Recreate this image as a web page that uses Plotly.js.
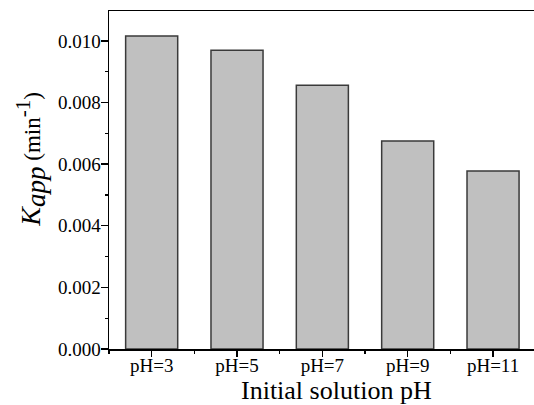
<!DOCTYPE html>
<html><head><meta charset="utf-8">
<script src="https://cdn.plot.ly/plotly-3.0.1.min.js"></script>
<style>html,body{margin:0;padding:0;background:#fff}#chart{width:534px;height:405px}</style>
</head><body><div id="chart"></div>
<script>
var categories = ["pH=3", "pH=5", "pH=7", "pH=9", "pH=11"];
var kapp = [0.01016, 0.0097, 0.00856, 0.00675, 0.00578];
var yTickVals = [0, 0.002, 0.004, 0.006, 0.008, 0.010];
var xPos = categories.map(function(c, i){ return i; });

var font = "Liberation Serif";
var trace = {
  type: 'bar', x: xPos, y: kapp, width: 0.61,
  marker: {color: '#c0c0c0', line: {color: '#3a3a3a', width: 1.5}},
  hoverinfo: 'skip'
};
var layout = {
  width: 534, height: 405,
  margin: {l: 109, r: 0, t: 11, b: 56, pad: 0},
  paper_bgcolor: '#fff', plot_bgcolor: '#fff',
  showlegend: false,
  font: {family: font, color: '#000', size: 19},
  xaxis: {
    range: [-0.5, 4.48], tickmode: 'array', tickvals: xPos, ticktext: categories,
    ticks: 'outside', ticklen: 6, tickwidth: 1.3, tickcolor: '#000', ticklabelstandoff: -7,
    minor: {tickvals: [-0.5, 0.5, 1.5, 2.5, 3.5], ticks: 'outside', ticklen: 3, tickwidth: 1.3, tickcolor: '#000'},
    showline: true, linecolor: '#000', linewidth: 1.5, mirror: true,
    showgrid: false, zeroline: false, fixedrange: true,
    tickfont: {family: font, size: 19, color: '#000'}
  },
  yaxis: {
    range: [0, 0.01097], tickmode: 'array', tickvals: yTickVals, tickformat: '.3f',
    ticks: 'outside', ticklen: 7, tickwidth: 1.3, tickcolor: '#000', ticklabelstandoff: -4,
    minor: {tickvals: [0.001, 0.003, 0.005, 0.007, 0.009], ticks: 'outside', ticklen: 3, tickwidth: 1.3, tickcolor: '#000'},
    showline: true, linecolor: '#000', linewidth: 1.5, mirror: false,
    showgrid: false, zeroline: false, fixedrange: true,
    tickfont: {family: font, size: 19, color: '#000'}
  },
  annotations: [
    {text: 'Initial solution pH', xref: 'paper', yref: 'paper', x: 0.5, y: 0,
     xshift: 15, yshift: -41, xanchor: 'center', yanchor: 'middle', showarrow: false,
     font: {family: font, size: 26, color: '#000'}},
    {text: '<i><span style="font-size:28px">K</span><sub><span style="font-size:27px">app</span></sub></i> (min<sup><span style="font-size:21px">-1</span></sup>)',
     xref: 'paper', yref: 'paper', x: 0, y: 0.56,
     xshift: -78, yshift: 0, textangle: -90, xanchor: 'center', yanchor: 'middle', showarrow: false,
     font: {family: font, size: 23, color: '#000'}}
  ]
};
Plotly.newPlot('chart', [trace], layout, {displayModeBar: false, staticPlot: true});
</script></body></html>
